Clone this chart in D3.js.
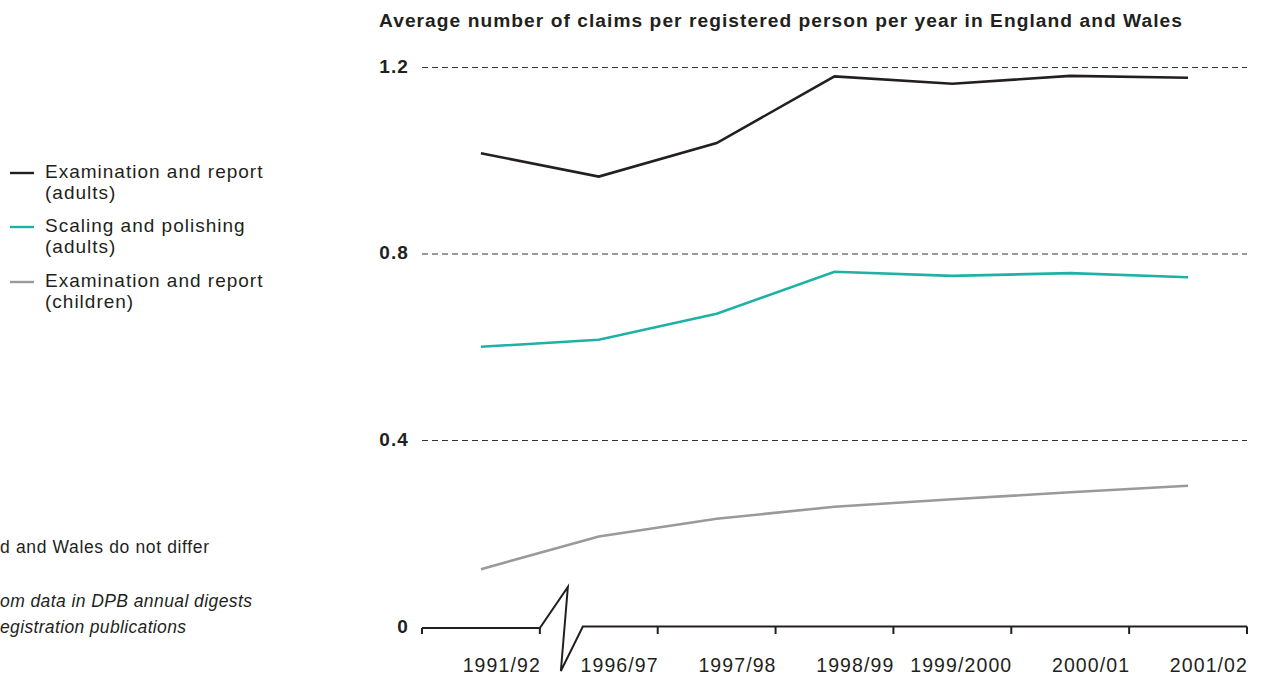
<!DOCTYPE html>
<html>
<head>
<meta charset="utf-8">
<script src="https://cdn.jsdelivr.net/npm/d3@7"></script>
<style>
  html, body { margin: 0; padding: 0; background: #fff; }
  svg { display: block; font-family: "Liberation Sans", Arial, Helvetica, sans-serif; }
</style>
</head>
<body>
<svg id="chart" width="1264" height="675"></svg>
<script>
// Claims per registered person per year, England and Wales
const years = ["1991/92", "1996/97", "1997/98", "1998/99", "1999/2000", "2000/01", "2001/02"];
const examAdults    = [1.016, 0.966, 1.038, 1.181, 1.165, 1.182, 1.178];
const scalingAdults = [0.601, 0.616, 0.672, 0.762, 0.753, 0.759, 0.750];
const examChildren  = [0.124, 0.194, 0.232, 0.258, 0.274, 0.289, 0.303];
const yTicks = [0, 0.4, 0.8, 1.2];
const yTickLabels = ["0", "0.4", "0.8", "1.2"];

const seriesNames = ["Examination and report\n(adults)", "Scaling and polishing\n(adults)", "Examination and report\n(children)"];
const seriesColors = ["#231f20", "#1fb1a5", "#9a9a9d"];
const seriesValues = [examAdults, scalingAdults, examChildren];

const noteLines = ["d and Wales do not differ", "om data in DPB annual digests", "egistration publications"];

const ink = "#231f20";
const svg = d3.select("#chart");

const x = d3.scaleBand().domain(years).range([422, 1247]).padding(0);
const y = d3.scaleLinear().domain([0, 1.2]).range([627, 67.5]);

// Title
svg.append("text")
  .attr("x", 379).attr("y", 27)
  .attr("font-size", 19.2).attr("font-weight", "bold").attr("fill", ink)
  .attr("textLength", 803).attr("lengthAdjust", "spacing")
  .text("Average number of claims per registered person per year in England and Wales");

// Dashed gridlines (zero is drawn as the axis line)
svg.append("g").selectAll("line")
  .data(yTicks.filter(d => d > 0))
  .join("line")
  .attr("x1", 422).attr("x2", 1247)
  .attr("y1", d => y(d)).attr("y2", d => y(d))
  .attr("stroke", "#333").attr("stroke-width", 1)
  .attr("stroke-dasharray", "6,4");

// Y tick labels
svg.append("g").selectAll("text")
  .data(yTicks)
  .join("text")
  .attr("x", 409)
  .attr("y", d => y(d) + (d === 0 ? 6 : 5))
  .attr("text-anchor", "end")
  .attr("font-size", 19).attr("font-weight", "bold").attr("fill", ink)
  .attr("letter-spacing", 1.1)
  .text((d, i) => yTickLabels[i]);

// X axis with a break between 1991/92 and 1996/97
const y0 = y(0);
const bandEdges = years.map(d => x(d)).concat([x(years[years.length - 1]) + x.bandwidth()]);
const breakStart = bandEdges[1];
const axis = svg.append("g").attr("stroke", ink).attr("stroke-width", 2).attr("fill", "none");
axis.append("path")
  .attr("d", d3.line()([
    [bandEdges[0], y0 + 1], [breakStart, y0 + 1],
    [breakStart + 28, y0 - 40], [breakStart + 21, y0 + 44],
    [breakStart + 43, y0 - 0.5], [bandEdges[bandEdges.length - 1], y0 - 0.5]
  ]))
  .attr("stroke-linejoin", "miter");
axis.selectAll("line.tick")
  .data(bandEdges)
  .join("line")
  .attr("class", "tick")
  .attr("x1", d => d).attr("x2", d => d)
  .attr("y1", (d, i) => i <= 1 ? y0 + 1 : y0 - 0.5)
  .attr("y2", y0 + 7);

// X labels, right-aligned to each band's right edge
svg.append("g").selectAll("text")
  .data(years)
  .join("text")
  .attr("x", d => x(d) + x.bandwidth() + 1)
  .attr("y", 672)
  .attr("text-anchor", "end")
  .attr("font-size", 19.5).attr("fill", ink)
  .attr("letter-spacing", 1.1)
  .text(d => d);

// Series lines
const line = d3.line()
  .x((d, i) => x(years[i]) + x.bandwidth() / 2)
  .y(d => y(d));
svg.append("g").selectAll("path")
  .data(seriesValues)
  .join("path")
  .attr("d", d => line(d))
  .attr("fill", "none")
  .attr("stroke", (d, i) => seriesColors[i])
  .attr("stroke-width", 2.6)
  .attr("stroke-linejoin", "miter");

// Legend
const legendTops = [171, 225, 280];
const legend = svg.append("g");
seriesNames.forEach((name, i) => {
  legend.append("line")
    .attr("x1", 10).attr("x2", 34)
    .attr("y1", legendTops[i] + 2).attr("y2", legendTops[i] + 2)
    .attr("stroke", seriesColors[i]).attr("stroke-width", 2.4);
  const t = legend.append("text")
    .attr("x", 45).attr("y", legendTops[i] + 7)
    .attr("font-size", 19).attr("fill", ink)
    .attr("letter-spacing", 1.0);
  name.split("\n").forEach((part, j) => {
    t.append("tspan").attr("x", 45).attr("dy", j === 0 ? 0 : 20.5).text(part);
  });
});

// Notes and source
const noteY = [553, 607, 633];
const noteEnd = [209, 252, 186];
svg.append("g").selectAll("text")
  .data(noteLines)
  .join("text")
  .attr("x", 0)
  .attr("y", (d, i) => noteY[i])
  .attr("font-size", 17.5).attr("fill", ink)
  .attr("font-style", (d, i) => i === 0 ? "normal" : "italic")
  .attr("textLength", (d, i) => noteEnd[i])
  .attr("lengthAdjust", "spacing")
  .text(d => d);
</script>
</body>
</html>
